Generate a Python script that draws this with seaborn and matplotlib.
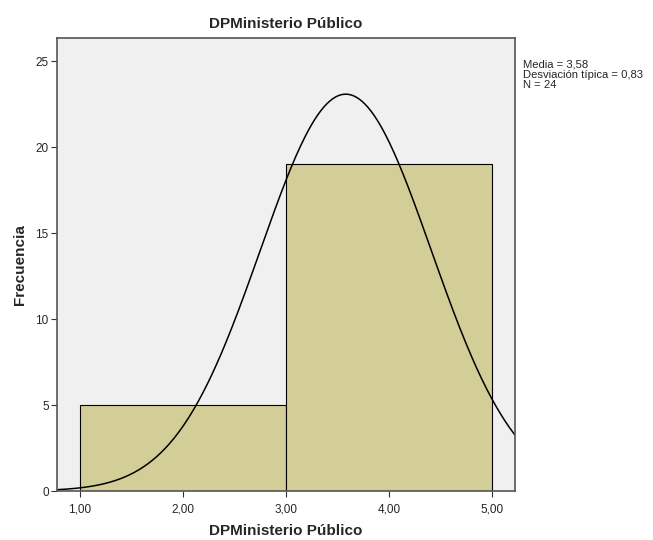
import numpy as np
import matplotlib
matplotlib.use("Agg")
import matplotlib.pyplot as plt
import seaborn as sns

# histogram data
bin_edges = [1.0, 3.0, 5.0]
bin_centers = [2.0, 4.0]
counts = [5, 19]
media = 3.58
desv = 0.83
n = 24
xticks = [1, 2, 3, 4, 5]
xtick_labels = ["1,00", "2,00", "3,00", "4,00", "5,00"]
yticks = [0, 5, 10, 15, 20, 25]

sns.set_theme(style="white")
plt.rcParams["font.family"] = ["Liberation Sans", "DejaVu Sans"]

fig = plt.figure(figsize=(6.53, 5.40), dpi=100)
ax = fig.add_axes([0.0873, 0.0907, 0.7014, 0.839])
ax.set_facecolor("#F0F0F0")

sns.histplot(x=bin_centers, weights=counts, bins=bin_edges, ax=ax,
             color="#D3CE97", edgecolor="black", linewidth=0.8, alpha=1)

# normal curve scaled to counts
xs = np.linspace(0.777, 5.223, 300)
ys = n * 2.0 / (desv * np.sqrt(2 * np.pi)) * np.exp(-0.5 * ((xs - media) / desv) ** 2)
sns.lineplot(x=xs, y=ys, ax=ax, color="black", linewidth=1.1)

ax.set_xlim(0.777, 5.223)
ax.set_ylim(0, 26.34)
ax.set_xticks(xticks)
ax.set_xticklabels(xtick_labels, fontsize=8.5)
ax.set_yticks(yticks)
ax.set_yticklabels([str(v) for v in yticks], fontsize=8.5)
ax.tick_params(axis="x", pad=5)
ax.tick_params(axis="y", pad=2)
ax.tick_params(axis="both", length=4, width=0.8, color="#333333", direction="out",
               bottom=True, left=True)
for s in ax.spines.values():
    s.set_color("#555555")
    s.set_linewidth(1.2)

ax.set_title("DPMinisterio Público", fontsize=11, fontweight="bold", pad=7)
ax.set_xlabel("DPMinisterio Público", fontsize=11, fontweight="bold", labelpad=6)
ax.set_ylabel("Frecuencia", fontsize=11, fontweight="bold", labelpad=6)

fig.text(0.801, 0.889, "Media = 3,58\nDesviación típica = 0,83\nN = 24",
         fontsize=8.1, va="top", ha="left", linespacing=1.0)

fig.savefig("out.png", dpi=100)
